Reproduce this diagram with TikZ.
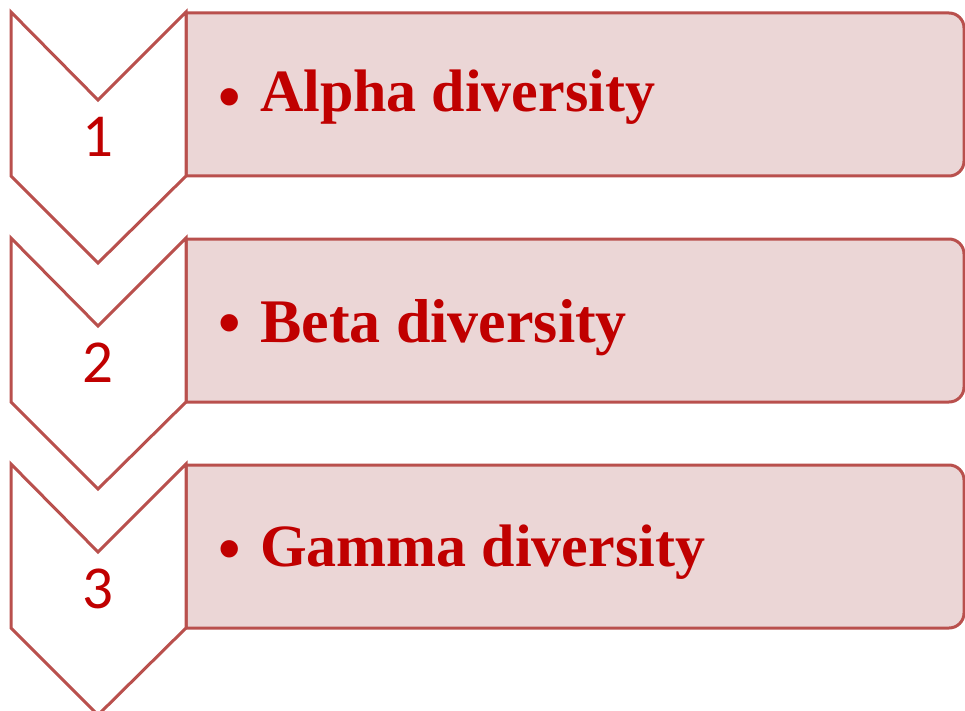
\documentclass[tikz,border=0pt]{standalone}
\usepackage{fontspec}
\newfontfamily\numfont{Carlito}
\newfontfamily\lblfont{Liberation Serif}
\newfontfamily\bulfont{Liberation Sans}
\definecolor{edge}{RGB}{185,80,77}
\definecolor{boxfill}{RGB}{235,214,214}
\definecolor{ink}{RGB}{192,0,0}
\tikzset{
  chev/.style={draw=edge, line width=3pt, fill=white, line join=miter},
  stepbox/.style={draw=edge, line width=3pt, fill=boxfill},
  numtxt/.style={text=ink, font=\numfont\fontsize{61}{61}\selectfont, inner sep=0pt},
  lbltxt/.style={text=ink, inner sep=0pt, anchor=base west},
  bultxt/.style={text=ink, font=\bulfont\fontsize{64}{64}\selectfont, inner sep=0pt},
}
\begin{document}
\begin{tikzpicture}[x=1pt,y=-1pt]
\useasboundingbox (0,0) rectangle (965,711);
\clip (0,0) rectangle (965,711);
\foreach \i/\num/\lbl/\base/\fs in {0/1/Alpha diversity/99/60, 1/2/Beta diversity/103/62, 2/3/Gamma diversity/101/60} {
  \begin{scope}[yshift={-226pt*\i}]
    % step box with rounded right-hand corners
    \draw[stepbox] (186,13) -- (949,13) arc[start angle=-90, end angle=0, radius=15]
      -- (964,161) arc[start angle=0, end angle=90, radius=15] -- (186,176) -- cycle;
    % chevron
    \draw[chev] (11,12) -- (98,100) -- (186,12) -- (186,176) -- (98,263) -- (11,176) -- cycle;
    \node[numtxt] (n\num) at (98,137) {\num};
    \node[bultxt] (b\num) at (230,104) {•};
    \node[lbltxt, font=\lblfont\bfseries\fontsize{\fs}{\fs}\selectfont] (t\num) at (260,13+\base) {\lbl};
  \end{scope}
}
\end{tikzpicture}
\end{document}
